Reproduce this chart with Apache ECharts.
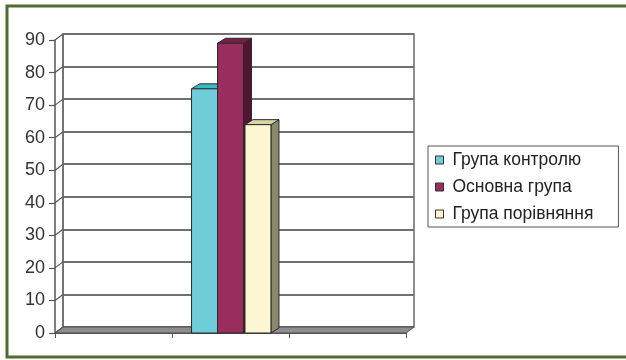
<!DOCTYPE html>
<html>
<head>
<meta charset="utf-8">
<script src="https://cdn.jsdelivr.net/npm/echarts@6/dist/echarts.min.js"></script>
<style>
html,body{margin:0;padding:0;background:#fff;}
#c{width:626px;height:360px;}
</style>
</head>
<body>
<div id="c"></div>
<script>
// ---- data ----
var categories = ['', '', ''];
var seriesNames = ['Група контролю', 'Основна група', 'Група порівняння'];
var controlValues = [null, 75, null];
var mainValues = [null, 89, null];
var compareValues = [null, 64, null];
var yTicks = [0, 10, 20, 30, 40, 50, 60, 70, 80, 90];

// ---- styles ----
var FONT = "'Liberation Sans', Arial, sans-serif";
var DX = 8, DY = -6;       // wall depth offset
var BDX = 8, BDY = -5;     // bar depth offset
var palettes = [
  { front: '#6fcdd9', top: '#36bcc4', side: '#2b8e97' },
  { front: '#992d5d', top: '#7a1f47', side: '#521532' },
  { front: '#fdf6d3', top: '#d9d3a7', side: '#8a896b' }
];

function barRenderer(idx) {
  var pal = palettes[idx];
  return function (params, api) {
    var x = api.value(0), v = api.value(1);
    if (v == null || isNaN(v)) return;
    var band = api.size([1, 0])[0];
    var bw = band * 0.222;
    var topPt = api.coord([x, v]);
    var basePt = api.coord([x, 0]);
    var left = topPt[0] - 1.5 * bw + idx * bw + (idx === 2 ? 1.5 : 0);
    var ty = topPt[1], by = basePt[1];
    var st = { stroke: '#2a2a2a', lineWidth: 1 };
    return {
      type: 'group',
      children: [
        { type: 'polygon', shape: { points: [[left + bw, ty], [left + bw + BDX, ty + BDY], [left + bw + BDX, by + BDY], [left + bw, by]] },
          style: Object.assign({ fill: pal.side }, st) },
        { type: 'polygon', shape: { points: [[left, ty], [left + bw, ty], [left + bw + BDX, ty + BDY], [left + BDX, ty + BDY]] },
          style: Object.assign({ fill: pal.top }, st) },
        { type: 'rect', shape: { x: left, y: ty, width: bw, height: by - ty },
          style: Object.assign({ fill: pal.front }, st) }
      ]
    };
  };
}

function toPairs(arr) {
  var out = [];
  arr.forEach(function (v, i) { if (v != null) out.push([i, v]); });
  return out;
}

var chart = echarts.init(document.getElementById('c'), null, { renderer: 'canvas' });

var yMin = yTicks[0], yMax = yTicks[yTicks.length - 1], yStep = yTicks[1] - yTicks[0];

chart.setOption({
  backgroundColor: '#ffffff',
  animation: false,
  graphic: [
    { type: 'rect', shape: { x: 7, y: 6, width: 660, height: 351 },
      style: { fill: 'none', stroke: '#4f6d33', lineWidth: 3 }, z: 100 }
  ],
  grid: [
    { left: 63, top: 34, width: 351, height: 293, show: true, borderColor: '#6a6a6a', borderWidth: 1.5, backgroundColor: '#fff' },
    { left: 55, top: 40, width: 351, height: 293 }
  ],
  xAxis: [
    { gridIndex: 0, type: 'category', data: categories, show: false },
    { gridIndex: 1, type: 'category', data: categories,
      axisLine: { show: true, lineStyle: { color: '#555', width: 1 } },
      axisTick: { show: true, length: 5, lineStyle: { color: '#555' } },
      axisLabel: { show: false } }
  ],
  yAxis: [
    { gridIndex: 0, type: 'value', min: yMin, max: yMax, interval: yStep,
      axisLine: { show: true, lineStyle: { color: '#6a6a6a', width: 1.5 } },
      axisTick: { show: false }, axisLabel: { show: false },
      splitLine: { show: true, lineStyle: { color: '#707070', width: 1.8 } } },
    { gridIndex: 1, type: 'value', min: yMin, max: yMax, interval: yStep,
      axisLine: { show: true, lineStyle: { color: '#555', width: 1.5 } },
      axisTick: { show: true, length: 6, lineStyle: { color: '#555', width: 1.2 } },
      axisLabel: { show: true, margin: 10, color: '#333', fontSize: 18, fontFamily: FONT },
      splitLine: { show: false } }
  ],
  legend: {
    orient: 'vertical',
    left: 428, top: 146,
    icon: 'rect',
    itemWidth: 8, itemHeight: 8,
    itemGap: 9,
    padding: [5, 25, 4, 7],
    borderColor: '#555', borderWidth: 1,
    backgroundColor: '#fff',
    itemStyle: { borderColor: '#333', borderWidth: 1 },
    textStyle: { fontSize: 17.5, fontFamily: FONT, color: '#222', lineHeight: 18, padding: [0, 0, 0, 4] },
    data: seriesNames
  },
  series: [
    { type: 'custom', name: 'floor', xAxisIndex: 1, yAxisIndex: 1, clip: false, silent: true, z: 1,
      data: [[0, 0]],
      renderItem: function (params, api) {
        var cs = params.coordSys;
        var y0 = api.coord([0, 0])[1];
        var x0 = cs.x, x1 = cs.x + cs.width;
        return { type: 'polygon',
          shape: { points: [[x0, y0], [x1, y0], [x1 + DX, y0 + DY], [x0 + DX, y0 + DY]] },
          style: { fill: '#8e8e8e', stroke: '#505050', lineWidth: 1 } };
      } },
    { type: 'custom', name: 'wall', xAxisIndex: 1, yAxisIndex: 1, clip: false, silent: true, z: 1,
      data: yTicks.map(function (t) { return [0, t]; }),
      renderItem: function (params, api) {
        var cs = params.coordSys;
        var y = api.coord([0, api.value(1)])[1];
        return { type: 'line',
          shape: { x1: cs.x, y1: y, x2: cs.x + DX, y2: y + DY },
          style: { stroke: '#555', lineWidth: 1.2 } };
      } },
    { type: 'custom', name: seriesNames[0], xAxisIndex: 1, yAxisIndex: 1, clip: false, z: 5,
      itemStyle: { color: palettes[0].front }, data: toPairs(controlValues), renderItem: barRenderer(0) },
    { type: 'custom', name: seriesNames[1], xAxisIndex: 1, yAxisIndex: 1, clip: false, z: 6,
      itemStyle: { color: palettes[1].front }, data: toPairs(mainValues), renderItem: barRenderer(1) },
    { type: 'custom', name: seriesNames[2], xAxisIndex: 1, yAxisIndex: 1, clip: false, z: 7,
      itemStyle: { color: palettes[2].front }, data: toPairs(compareValues), renderItem: barRenderer(2) }
  ]
});
</script>
</body>
</html>
